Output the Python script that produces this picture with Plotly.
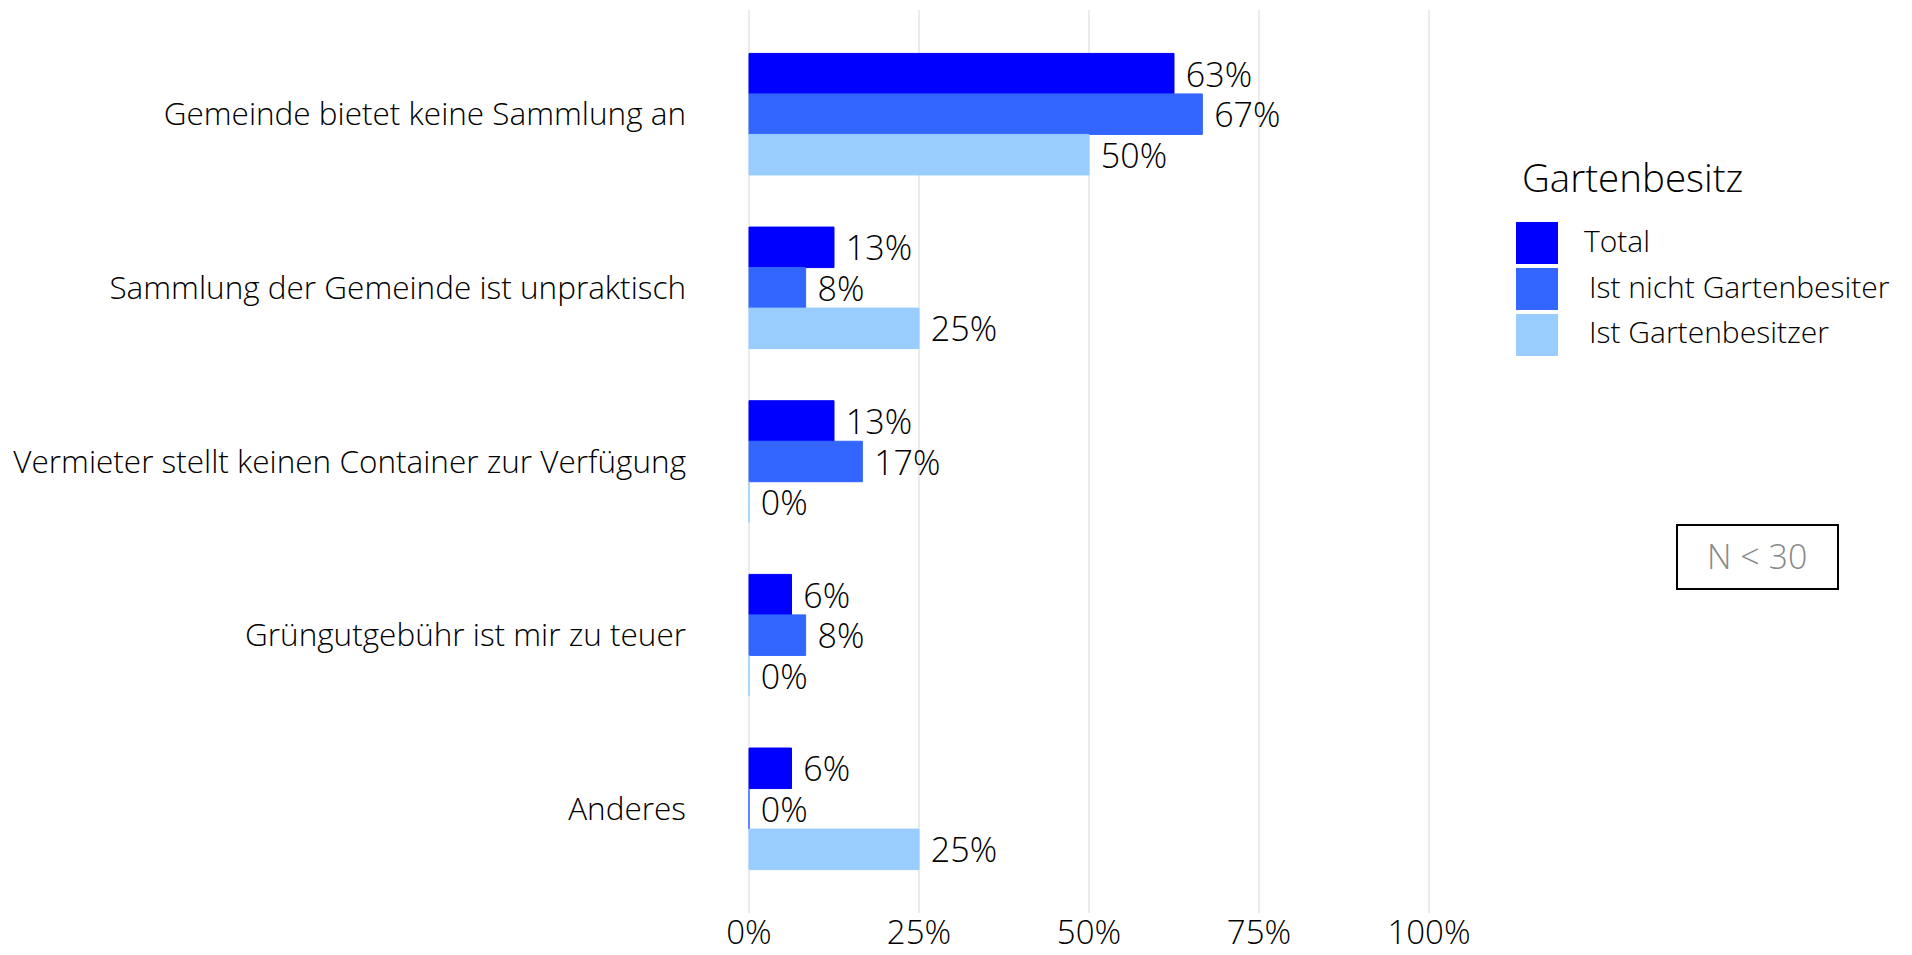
import plotly.graph_objects as go

categories = [
    "Gemeinde bietet keine Sammlung an",
    "Sammlung der Gemeinde ist unpraktisch",
    "Vermieter stellt keinen Container zur Verfügung",
    "Grüngutgebühr ist mir zu teuer",
    "Anderes",
]
series_names = ["Total", "Ist nicht Gartenbesiter", "Ist Gartenbesitzer"]
total = [0.625, 0.125, 0.125, 0.0625, 0.0625]
nicht_garten = [0.6667, 0.0833, 0.1667, 0.0833, 0.0]
garten = [0.50, 0.25, 0.0, 0.0, 0.25]
colors = ["#0000FF", "#3366FF", "#99CCFF"]
x_ticks = [0, 0.25, 0.5, 0.75, 1.0]
x_tick_labels = ["0%", "25%", "50%", "75%", "100%"]
legend_title = "Gartenbesitz"
note_text = "N < 30"

FONT = "Open Sans"
WT = 300
W, H = 1912, 955
ML, MR, MT, MB = 715, 449, 10, 42
PW, PH = W - ML - MR, H - MT - MB


def px(xp):
    return (xp - ML) / PW


def py(yp):
    return 1 - (yp - MT) / PH


def f(size, color="black"):
    return dict(family=FONT, size=size, color=color, weight=WT)


fig = go.Figure()
for name, vals, col in zip(series_names, [total, nicht_garten, garten], colors):
    fig.add_trace(go.Bar(
        y=categories, x=vals, orientation="h", name=name,
        marker=dict(color=col, line=dict(width=1, color=col)),
        texttemplate="\u00a0%{x:.0%}", textposition="outside",
        outsidetextfont=f(34),
        constraintext="none", cliponaxis=False, showlegend=False,
        hoverinfo="skip",
    ))

shapes = []
annotations = []
# custom legend
annotations.append(dict(x=px(1520), y=py(177), xref="paper", yref="paper",
                        text=legend_title, showarrow=False, xanchor="left", yanchor="middle",
                        font=f(38.5)))
tops = [222, 268, 314]
for i, (name, col) in enumerate(zip(series_names, colors)):
    t = tops[i]
    shapes.append(dict(type="rect", xref="paper", yref="paper",
                       x0=px(1516), x1=px(1558), y0=py(t), y1=py(t + 42),
                       fillcolor=col, line=dict(width=0)))
    lx = 1582 if i == 0 else 1587
    annotations.append(dict(x=px(lx), y=py(t + 18), xref="paper", yref="paper",
                            text=name, showarrow=False, xanchor="left", yanchor="middle",
                            font=f(30)))
# N < 30 box
shapes.append(dict(type="rect", xref="paper", yref="paper",
                   x0=px(1677), x1=px(1838), y0=py(525), y1=py(589),
                   fillcolor="rgba(0,0,0,0)", line=dict(color="black", width=2)))
annotations.append(dict(x=px(1757), y=py(556), xref="paper", yref="paper",
                        text=note_text, showarrow=False, xanchor="center", yanchor="middle",
                        font=f(34, "#888888")))

fig.update_layout(
    width=W, height=H,
    margin=dict(l=ML, r=MR, t=MT, b=MB, pad=0),
    paper_bgcolor="white", plot_bgcolor="white",
    barmode="group", bargap=0.3, bargroupgap=0,
    font=f(30),
    shapes=shapes, annotations=annotations,
    xaxis=dict(range=[-0.05, 1.05], tickvals=x_ticks, ticktext=x_tick_labels,
               showgrid=True, gridcolor="#EBEBEB", gridwidth=2, zeroline=False,
               showline=False, ticks="", automargin=False, ticklabelstandoff=-3,
               tickfont=f(33)),
    yaxis=dict(categoryorder="array", categoryarray=categories, range=[4.6, -0.6],
               showgrid=False, zeroline=False, showline=False, ticks="",
               automargin=False, ticklabelstandoff=28, tickfont=f(31.5)),
)

fig.write_html("out.html", config={"displayModeBar": False},
               post_script="document.body.style.margin='0';document.body.style.overflow='hidden';")
